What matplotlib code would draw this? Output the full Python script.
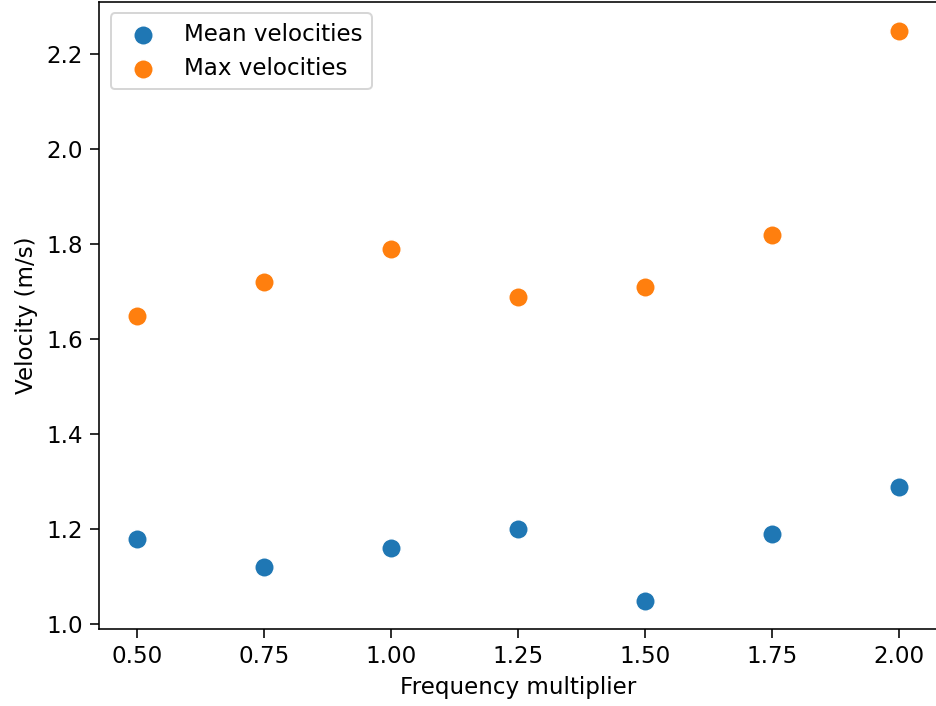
import numpy as np
import matplotlib

matplotlib.use("Agg")
import matplotlib.pyplot as plt

# Values
freq_multiplier = [0.50, 0.75, 1.00, 1.25, 1.50, 1.75, 2.00]
mean_velocities = [1.18, 1.12, 1.16, 1.20, 1.05, 1.19, 1.29]
max_velocities = [1.65, 1.72, 1.79, 1.69, 1.71, 1.82, 2.25]


def main() -> None:
    plt.rcParams["font.size"] = 11.5
    plt.rcParams["xtick.major.size"] = 4.5
    plt.rcParams["ytick.major.size"] = 4.5
    dpi = 144
    fig = plt.figure(figsize=(936 / dpi, 706 / dpi), dpi=dpi)
    ax = fig.add_axes([99 / 936, 77 / 706, 838 / 936, 627 / 706])

    ax.scatter(freq_multiplier, mean_velocities, s=95, color="#1f77b4",
               edgecolor="white", linewidth=0.75, label="Mean velocities")
    ax.scatter(freq_multiplier, max_velocities, s=95, color="#ff7f0e",
               edgecolor="white", linewidth=0.75, label="Max velocities")

    ax.set_xticks(np.arange(0.5, 2.01, 0.25))
    ax.set_xlabel("Frequency multiplier")
    ax.set_ylabel("Velocity (m/s)")
    ax.legend(loc="upper left")

    fig.savefig("out.png", dpi=dpi)
    plt.close(fig)


if __name__ == "__main__":
    main()
